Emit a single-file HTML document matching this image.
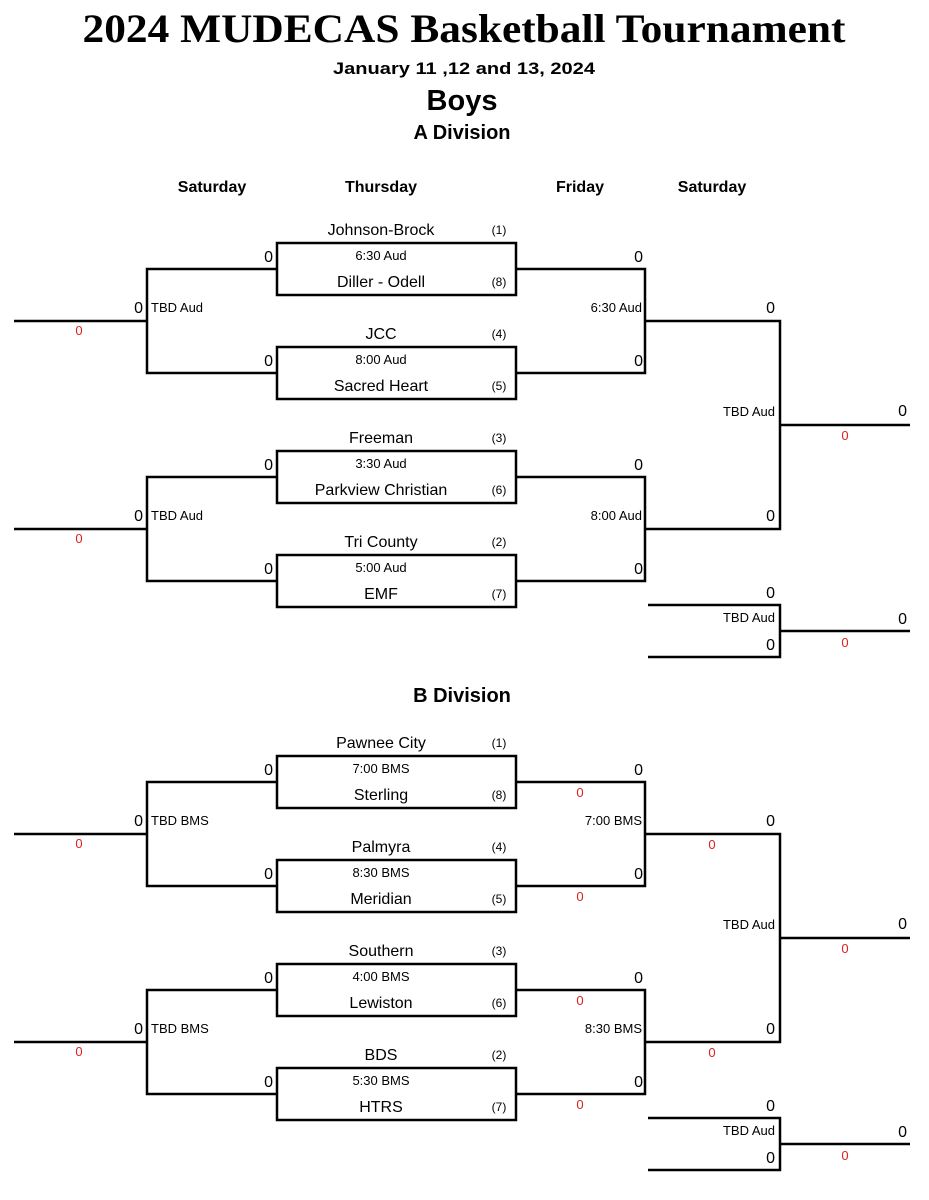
<!DOCTYPE html>
<html><head><meta charset="utf-8"><style>
body{margin:0;background:#fff}
svg{display:block}
text{font-family:"Liberation Sans",Arial,sans-serif;fill:#000}
.t{font-size:16px;text-anchor:middle}
.s{font-size:12px;text-anchor:middle}
.tm{font-size:13px;text-anchor:middle}
.sc{font-size:16px;text-anchor:end}
.lb{font-size:13px}
.r{font-size:13px;fill:#e0201c;text-anchor:middle}
.h{font-size:16px;font-weight:bold;text-anchor:middle}
line,path,rect{stroke:#000;stroke-width:2.5;fill:none}
</style></head><body>
<svg width="929" height="1200" viewBox="0 0 929 1200">
<text x="464" y="42" style="font-family:'Liberation Serif',serif;font-weight:bold;font-size:40px" text-anchor="middle" textLength="763" lengthAdjust="spacingAndGlyphs">2024 MUDECAS Basketball Tournament</text>
<text x="464" y="74" class="h" style="font-size:17px" textLength="262" lengthAdjust="spacingAndGlyphs">January 11 ,12 and 13, 2024</text>
<text x="462" y="110" class="h" style="font-size:29px">Boys</text>
<text x="462" y="139" class="h" style="font-size:20px">A Division</text>
<text x="212" y="192" class="h">Saturday</text>
<text x="381" y="192" class="h">Thursday</text>
<text x="580" y="192" class="h">Friday</text>
<text x="712" y="192" class="h">Saturday</text>
<text x="462" y="702" class="h" style="font-size:20px">B Division</text>

<!-- A Division -->
<g>
<rect x="277" y="243" width="239" height="52"/><rect x="277" y="347" width="239" height="52"/>
<rect x="277" y="451" width="239" height="52"/><rect x="277" y="555" width="239" height="52"/>
<path d="M277 269H147V373H277M14 321H147"/>
<path d="M277 477H147V581H277M14 529H147"/>
<path d="M516 269H645V373H516M645 321H780V529H645M516 477H645V581H516M780 425H910"/>
<path d="M648 605H780V657H648M780 631H910"/>
<text x="381" y="235" class="t">Johnson-Brock</text><text x="499" y="234" class="s">(1)</text>
<text x="381" y="260" class="tm">6:30 Aud</text>
<text x="381" y="287" class="t">Diller - Odell</text><text x="499" y="286" class="s">(8)</text>
<text x="381" y="339" class="t">JCC</text><text x="499" y="338" class="s">(4)</text>
<text x="381" y="364" class="tm">8:00 Aud</text>
<text x="381" y="391" class="t">Sacred Heart</text><text x="499" y="390" class="s">(5)</text>
<text x="381" y="443" class="t">Freeman</text><text x="499" y="442" class="s">(3)</text>
<text x="381" y="468" class="tm">3:30 Aud</text>
<text x="381" y="495" class="t">Parkview Christian</text><text x="499" y="494" class="s">(6)</text>
<text x="381" y="547" class="t">Tri County</text><text x="499" y="546" class="s">(2)</text>
<text x="381" y="572" class="tm">5:00 Aud</text>
<text x="381" y="599" class="t">EMF</text><text x="499" y="598" class="s">(7)</text>
<text x="273" y="262" class="sc">0</text><text x="273" y="366" class="sc">0</text>
<text x="273" y="470" class="sc">0</text><text x="273" y="574" class="sc">0</text>
<text x="643" y="262" class="sc">0</text><text x="643" y="366" class="sc">0</text>
<text x="643" y="470" class="sc">0</text><text x="643" y="574" class="sc">0</text>
<text x="143" y="313" class="sc">0</text><text x="151" y="312" class="lb">TBD Aud</text><text x="79" y="335" class="r">0</text>
<text x="143" y="521" class="sc">0</text><text x="151" y="520" class="lb">TBD Aud</text><text x="79" y="543" class="r">0</text>
<text x="642" y="312" class="lb" text-anchor="end">6:30 Aud</text>
<text x="642" y="520" class="lb" text-anchor="end">8:00 Aud</text>
<text x="775" y="313" class="sc">0</text><text x="775" y="521" class="sc">0</text>
<text x="775" y="416" class="lb" text-anchor="end">TBD Aud</text>
<text x="907" y="416" class="sc">0</text><text x="845" y="440" class="r">0</text>
<text x="775" y="598" class="sc">0</text><text x="775" y="622" class="lb" text-anchor="end">TBD Aud</text>
<text x="775" y="650" class="sc">0</text><text x="907" y="624" class="sc">0</text><text x="845" y="647" class="r">0</text>
</g>

<!-- B Division -->
<g transform="translate(0,513)">
<rect x="277" y="243" width="239" height="52"/><rect x="277" y="347" width="239" height="52"/>
<rect x="277" y="451" width="239" height="52"/><rect x="277" y="555" width="239" height="52"/>
<path d="M277 269H147V373H277M14 321H147"/>
<path d="M277 477H147V581H277M14 529H147"/>
<path d="M516 269H645V373H516M645 321H780V529H645M516 477H645V581H516M780 425H910"/>
<path d="M648 605H780V657H648M780 631H910"/>
<text x="381" y="235" class="t">Pawnee City</text><text x="499" y="234" class="s">(1)</text>
<text x="381" y="260" class="tm">7:00 BMS</text>
<text x="381" y="287" class="t">Sterling</text><text x="499" y="286" class="s">(8)</text>
<text x="381" y="339" class="t">Palmyra</text><text x="499" y="338" class="s">(4)</text>
<text x="381" y="364" class="tm">8:30 BMS</text>
<text x="381" y="391" class="t">Meridian</text><text x="499" y="390" class="s">(5)</text>
<text x="381" y="443" class="t">Southern</text><text x="499" y="442" class="s">(3)</text>
<text x="381" y="468" class="tm">4:00 BMS</text>
<text x="381" y="495" class="t">Lewiston</text><text x="499" y="494" class="s">(6)</text>
<text x="381" y="547" class="t">BDS</text><text x="499" y="546" class="s">(2)</text>
<text x="381" y="572" class="tm">5:30 BMS</text>
<text x="381" y="599" class="t">HTRS</text><text x="499" y="598" class="s">(7)</text>
<text x="273" y="262" class="sc">0</text><text x="273" y="366" class="sc">0</text>
<text x="273" y="470" class="sc">0</text><text x="273" y="574" class="sc">0</text>
<text x="643" y="262" class="sc">0</text><text x="643" y="366" class="sc">0</text>
<text x="643" y="470" class="sc">0</text><text x="643" y="574" class="sc">0</text>
<text x="580" y="284" class="r">0</text><text x="580" y="388" class="r">0</text>
<text x="580" y="492" class="r">0</text><text x="580" y="596" class="r">0</text>
<text x="143" y="313" class="sc">0</text><text x="151" y="312" class="lb">TBD BMS</text><text x="79" y="335" class="r">0</text>
<text x="143" y="521" class="sc">0</text><text x="151" y="520" class="lb">TBD BMS</text><text x="79" y="543" class="r">0</text>
<text x="642" y="312" class="lb" text-anchor="end">7:00 BMS</text>
<text x="642" y="520" class="lb" text-anchor="end">8:30 BMS</text>
<text x="775" y="313" class="sc">0</text><text x="775" y="521" class="sc">0</text>
<text x="712" y="336" class="r">0</text><text x="712" y="544" class="r">0</text>
<text x="775" y="416" class="lb" text-anchor="end">TBD Aud</text>
<text x="907" y="416" class="sc">0</text><text x="845" y="440" class="r">0</text>
<text x="775" y="598" class="sc">0</text><text x="775" y="622" class="lb" text-anchor="end">TBD Aud</text>
<text x="775" y="650" class="sc">0</text><text x="907" y="624" class="sc">0</text><text x="845" y="647" class="r">0</text>
</g>
</svg>
</body></html>
